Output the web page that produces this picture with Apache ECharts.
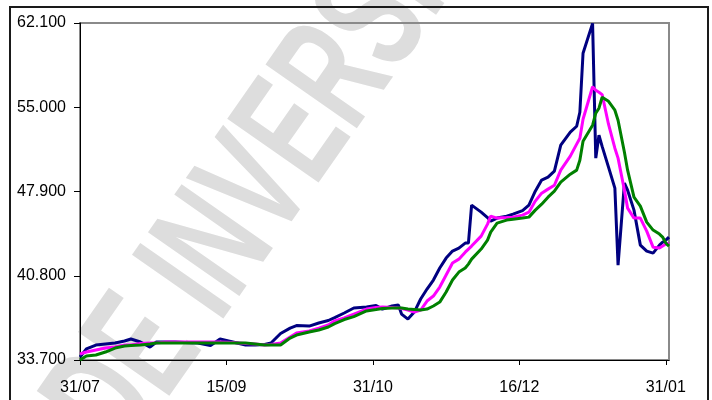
<!DOCTYPE html>
<html>
<head>
<meta charset="utf-8">
<script src="https://cdn.jsdelivr.net/npm/echarts@6/dist/echarts.min.js"></script>
<style>
html,body{margin:0;padding:0;background:#fff;}
#chart{width:712px;height:400px;}
</style>
</head>
<body>
<div id="chart"></div>
<script>
// day offsets from 31/07
var days = [0,2,5,8,11,14,16,19,22,24,27,30,33,37,41,44,48,52,55,58,60,63,66,68,72,75,78,80,83,86,90,93,95,98,100,101,103,105,107,109,111,113,115,117,119,121,122,123,126,128,129,131,134,136,139,141,143,145,147,149,151,154,156,157,158,161,162,163,164,166,168,169,171,172,174,176,178,180,182,183,184,185];

var navySeries = [33.95,34.63,34.96,35.05,35.13,35.30,35.47,35.22,34.79,35.22,35.22,35.22,35.17,35.13,34.92,35.47,35.22,34.96,34.96,35.01,35.13,35.93,36.39,36.60,36.56,36.82,37.03,37.28,37.66,38.08,38.16,38.29,37.99,38.25,38.33,37.57,37.15,37.74,38.84,39.68,40.44,41.45,42.29,42.88,43.13,43.55,43.55,46.75,46.16,45.70,45.40,45.66,45.82,45.99,46.29,46.75,47.93,48.86,49.11,49.61,51.80,52.90,53.40,54.58,59.55,62.07,50.71,52.64,51.70,49.95,48.18,41.70,48.60,48.01,46.33,43.38,42.88,42.71,43.38,43.63,43.80,44.06];

var magentaSeries = [34.21,34.37,34.54,34.71,34.79,34.96,34.96,35.09,35.13,35.13,35.22,35.22,35.22,35.22,35.22,35.22,35.17,35.09,35.05,34.96,35.01,35.13,35.64,35.97,36.14,36.39,36.65,37.00,37.24,37.57,37.99,38.12,38.16,38.12,38.08,38.04,37.91,37.74,37.91,38.67,39.09,39.85,40.86,41.87,42.20,42.79,43.05,43.30,44.14,45.15,45.82,45.66,45.70,45.74,45.91,46.16,47.09,47.76,48.10,48.43,49.70,50.88,51.89,52.39,53.99,56.73,56.43,56.26,56.06,53.57,51.55,50.71,48.01,46.50,45.66,45.66,44.56,43.21,43.13,43.30,43.47,43.55];

var greenSeries = [33.70,34.04,34.12,34.37,34.71,34.88,34.92,34.96,35.05,35.13,35.13,35.13,35.13,35.13,35.13,35.13,35.13,35.13,35.05,34.96,34.96,34.96,35.55,35.80,36.06,36.23,36.48,36.77,37.11,37.36,37.83,37.95,38.04,38.08,38.08,38.08,37.99,37.95,37.91,37.99,38.25,38.58,39.43,40.44,41.11,41.45,41.78,42.20,43.05,43.80,44.48,45.24,45.49,45.57,45.66,45.74,46.33,46.83,47.42,47.93,48.69,49.36,49.70,50.54,52.14,53.49,54.50,54.92,55.84,55.50,54.75,53.91,51.21,49.70,47.42,46.67,45.32,44.65,44.31,44.06,43.55,43.30];

var xTickDays = [0,46,92,138,184];
var xTickLabels = ['31/07','15/09','31/10','16/12','31/01'];
var yTicks = [33.7,40.8,47.9,55.0,62.1];
var watermarkText = 'DE INVERSIONES';

function pairs(vals){ return days.map(function(d,i){ return [d, vals[i]]; }); }

var chart = echarts.init(document.getElementById('chart'), null, {renderer:'canvas'});
var font = '"Liberation Sans", Arial, sans-serif';
chart.setOption({
  animation:false,
  backgroundColor:'#fff',
  grid:{left:80,top:23,right:43,bottom:40,show:true,borderColor:'#8a8a8a',borderWidth:2,backgroundColor:'transparent'},
  graphic:[
    {type:'text', x:154, y:481, rotation:55*Math.PI/180, scaleX:0.615, z:-10,
     style:{text:watermarkText, x:0, y:0, align:'left', verticalAlign:'bottom',
            font:'bold 162px "Liberation Sans", Arial, sans-serif', fill:'#dddddd'}},
    {type:'rect', shape:{x:10,y:7,width:698,height:420}, z:100,
     style:{fill:'none', stroke:'#1a1a1a', lineWidth:2}}
  ],
  xAxis:{type:'value', min:0, max:185,
    axisLine:{show:true,lineStyle:{color:'#000',width:1}},
    axisTick:{show:true,length:5,customValues:xTickDays,lineStyle:{color:'#000'}},
    axisLabel:{customValues:xTickDays, margin:20, color:'#000', fontSize:16, fontFamily:font,
      formatter:function(v){ var i=xTickDays.indexOf(v); return i>=0?xTickLabels[i]:''; }},
    splitLine:{show:false}},
  yAxis:{type:'value', min:33.7, max:62.1,
    axisLine:{show:true,lineStyle:{color:'#000',width:1}},
    axisTick:{show:true,length:6,customValues:yTicks,lineStyle:{color:'#000'}},
    axisLabel:{customValues:yTicks, margin:14, color:'#000', fontSize:16, fontFamily:font,
      formatter:function(v){ return v.toFixed(3); }},
    splitLine:{show:false}},
  series:[
    {type:'line', data:pairs(navySeries), showSymbol:false, z:2, lineStyle:{color:'#000080',width:3}, itemStyle:{color:'#000080'}},
    {type:'line', data:pairs(magentaSeries), showSymbol:false, z:3, lineStyle:{color:'#ff00ff',width:3}, itemStyle:{color:'#ff00ff'}},
    {type:'line', data:pairs(greenSeries), showSymbol:false, z:4, lineStyle:{color:'#008000',width:3}, itemStyle:{color:'#008000'}}
  ]
});
</script>
</body>
</html>
